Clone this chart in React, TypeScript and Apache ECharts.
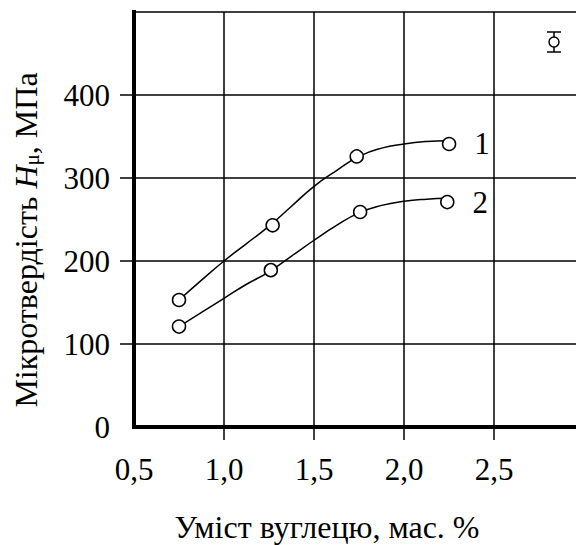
import React, { useEffect, useRef } from "react";
import * as echarts from "echarts";

const FONT = "'Liberation Serif', 'Times New Roman', serif";

const xTicks = [1.0, 1.5, 2.0, 2.5];
const xLabels = [0.5, 1.0, 1.5, 2.0, 2.5];
const yTicks = [100, 200, 300, 400];
const yLabels = [0, 100, 200, 300, 400];

// measured points (circles)
const carbon1 = [0.75, 1.27, 1.737, 2.25];
const hardness1 = [153, 243, 326, 341];
const carbon2 = [0.75, 1.26, 1.756, 2.24];
const hardness2 = [121, 189, 259, 271];

// fitted curves
const curveX = [0.75, 0.875, 1.0, 1.125, 1.25, 1.375, 1.5, 1.625, 1.75, 1.875, 2.0, 2.125, 2.24];
const curve1Y = [153, 177, 200, 221, 242, 266, 290, 309, 326, 336, 341, 344, 345];
const curve2Y = [121, 138, 155, 172, 187, 206, 225, 243, 258, 267, 272, 274.5, 275.5];

const curveNames = ["1", "2"];

function pointData(xs: number[], ys: number[], name: string) {
  return xs.map((x, i) => {
    if (i === xs.length - 1) {
      return {
        value: [x, ys[i]],
        label: {
          show: true,
          formatter: name,
          position: "right",
          distance: 18,
          fontSize: 31,
          fontFamily: FONT,
          color: "#000",
        },
      };
    }
    return { value: [x, ys[i]] };
  });
}

export default function App() {
  const ref = useRef<HTMLDivElement>(null);
  useEffect(() => {
    if (!ref.current) return;
    const chart = echarts.init(ref.current, undefined, { renderer: "svg" });
    const curveCommon = {
      type: "line",
      smooth: 0.5,
      symbol: "none",
      lineStyle: { color: "#000", width: 1.5 },
      z: 4,
      silent: true,
    };
    const pointCommon = {
      type: "scatter",
      symbol: "circle",
      symbolSize: 13,
      itemStyle: { color: "#fff", borderColor: "#000", borderWidth: 1.5, opacity: 1 },
      z: 6,
    };
    chart.setOption({
      animation: false,
      backgroundColor: "#fff",
      grid: { left: 134, right: 0, top: 12, bottom: 118, containLabel: false, outerBoundsMode: "none" },
      xAxis: [
        {
          type: "value",
          min: 0.5,
          max: 2.955,
          interval: 0.5,
          axisLine: { show: true, onZero: false, lineStyle: { color: "#000", width: 4, cap: "square" } },
          axisTick: { show: true, length: 13, customValues: xTicks, lineStyle: { color: "#000", width: 1.5 } },
          axisLabel: {
            customValues: xLabels,
            formatter: (v: number) => v.toFixed(1).replace(".", ","),
            fontSize: 31,
            fontFamily: FONT,
            color: "#000",
            margin: 27,
          },
          splitLine: { show: true, lineStyle: { color: "#000", width: 1.5 } },
          z: 3,
        },
        {
          type: "value",
          position: "top",
          min: 0.5,
          max: 2.955,
          interval: 0.5,
          axisLine: { show: true, onZero: false, lineStyle: { color: "#000", width: 1.5 } },
          axisTick: { show: false },
          axisLabel: { show: false },
          splitLine: { show: false },
        },
      ],
      yAxis: {
        type: "value",
        min: 0,
        max: 500,
        interval: 100,
        axisLine: { show: true, onZero: false, lineStyle: { color: "#000", width: 4, cap: "square" } },
        axisTick: { show: true, length: 14, customValues: yTicks, lineStyle: { color: "#000", width: 1.5 } },
        axisLabel: {
          customValues: yLabels,
          fontSize: 31,
          fontFamily: FONT,
          color: "#000",
          margin: 24,
        },
        splitLine: { show: true, lineStyle: { color: "#000", width: 1.5 } },
        z: 3,
      },
      graphic: [
        {
          type: "text",
          x: 327,
          y: 527,
          style: {
            text: "Уміст вуглецю, мас. %",
            fontSize: 32,
            fontFamily: FONT,
            fill: "#000",
            align: "center",
            verticalAlign: "middle",
          },
        },
        {
          type: "text",
          x: 26,
          y: 240,
          rotation: Math.PI / 2,
          style: {
            text: "{a|Мікротвердість }{i|H}{s|μ}{a|, МПа}",
            fontFamily: FONT,
            fill: "#000",
            align: "center",
            verticalAlign: "middle",
            rich: {
              a: { fontSize: 32, fontFamily: FONT, fill: "#000", lineHeight: 32 },
              i: { fontSize: 32, fontFamily: FONT, fontStyle: "italic", fill: "#000", lineHeight: 32 },
              s: { fontSize: 21, fontFamily: FONT, fill: "#000", lineHeight: 10, verticalAlign: "bottom" },
            },
          },
        },
        {
          type: "group",
          x: 554,
          y: 42,
          children: [
            { type: "line", shape: { x1: 0, y1: -10, x2: 0, y2: 10 }, style: { stroke: "#000", lineWidth: 1.5 } },
            { type: "line", shape: { x1: -7, y1: -10, x2: 7, y2: -10 }, style: { stroke: "#000", lineWidth: 1.5 } },
            { type: "line", shape: { x1: -7, y1: 10, x2: 7, y2: 10 }, style: { stroke: "#000", lineWidth: 1.5 } },
            { type: "circle", shape: { cx: 0, cy: 0, r: 5 }, style: { fill: "#fff", stroke: "#000", lineWidth: 1.5 } },
          ],
        },
      ],
      series: [
        { ...curveCommon, name: "fit1", data: curveX.map((x, i) => [x, curve1Y[i]]) },
        { ...curveCommon, name: "fit2", data: curveX.map((x, i) => [x, curve2Y[i]]) },
        { ...pointCommon, name: curveNames[0], data: pointData(carbon1, hardness1, curveNames[0]) },
        { ...pointCommon, name: curveNames[1], data: pointData(carbon2, hardness2, curveNames[1]) },
      ],
    });
    return () => chart.dispose();
  }, []);
  return (
    <div
      ref={ref}
      style={{ position: "absolute", left: 0, top: 0, width: 576, height: 545, background: "#fff" }}
    />
  );
}
